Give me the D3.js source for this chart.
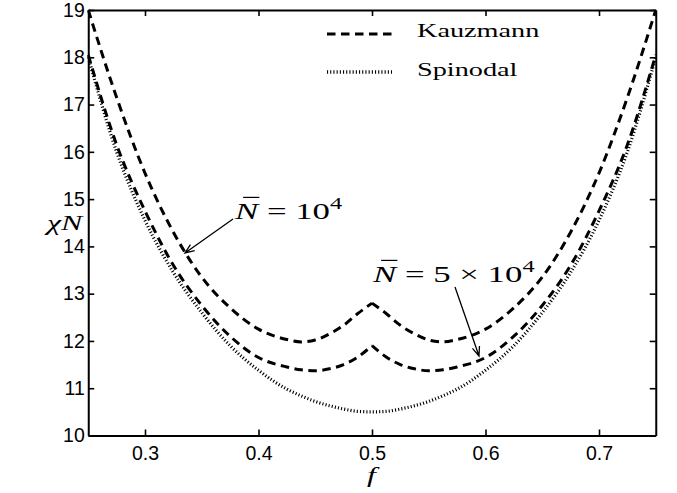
<!DOCTYPE html>
<html lang="en">
<head>
<meta charset="UTF-8">
<title>Kauzmann and spinodal lines</title>
<script src="https://cdn.jsdelivr.net/npm/d3@7"></script>
<style>
  html, body { margin: 0; padding: 0; background: #fff; }
  svg { display: block; }
</style>
</head>
<body>
<script>
// composition grid (both halves share f = 0.5, where the Kauzmann lines have a cusp)
const fGrid = [0.25, 0.275, 0.3, 0.325, 0.35, 0.375, 0.4, 0.425, 0.4375, 0.45, 0.4625, 0.475, 0.4875, 0.5,
               0.5125, 0.525, 0.5375, 0.55, 0.5625, 0.575, 0.6, 0.625, 0.65, 0.675, 0.7, 0.725, 0.75]

// chi N
const spinodal = [18.0, 16.0, 14.55, 13.45, 12.6, 11.9, 11.38, 10.98, 10.84, 10.72, 10.63, 10.56, 10.51, 10.5,
                  10.51, 10.56, 10.63, 10.72, 10.84, 10.98, 11.38, 11.9, 12.6, 13.45, 14.55, 16.0, 18.0]
const kauz1e4 = [19.0, 17.15, 15.55, 14.3, 13.35, 12.7, 12.25, 12.03, 11.98, 12.02, 12.15, 12.33, 12.58, 12.8,
                 12.58, 12.33, 12.15, 12.02, 11.98, 12.03, 12.25, 12.7, 13.35, 14.3, 15.55, 17.15, 19.0]
const kauz5e4 = [18.05, 16.15, 14.75, 13.6, 12.75, 12.1, 11.65, 11.45, 11.39, 11.37, 11.41, 11.5, 11.66, 11.9,
                 11.66, 11.5, 11.41, 11.37, 11.39, 11.45, 11.65, 12.1, 12.75, 13.6, 14.75, 16.15, 18.05]

const xTicks = [0.3, 0.4, 0.5, 0.6, 0.7]
const yTicks = [10, 11, 12, 13, 14, 15, 16, 17, 18, 19]

const W = 677, H = 493
const margin = {top: 10, right: 21.25, bottom: 57.5, left: 88.25}
const iw = W - margin.left - margin.right
const ih = H - margin.top - margin.bottom
const stretch = 1.45   // the serif (TeX) text in the picture is drawn wide

const svg = d3.select('body').append('svg')
    .attr('width', W)
    .attr('height', H)

const g = svg.append('g').attr('transform', `translate(${margin.left},${margin.top})`)

const x = d3.scaleLinear().domain([0.25, 0.75]).range([0, iw])
const y = d3.scaleLinear().domain([10, 19]).range([ih, 0])

svg.append('defs').append('clipPath').attr('id', 'plotclip')
    .append('rect').attr('x', -1).attr('y', -1).attr('width', iw + 2).attr('height', ih + 2)

const line = d3.line()
    .x(d => x(d.f))
    .y(d => y(d.v))
    .curve(d3.curveMonotoneX)

function pts(vals) {
    return fGrid.map((f, i) => ({f, v: vals[i]}))
}
// split at the cusp so that the peak stays sharp
function halves(vals) {
    const p = pts(vals)
    return [p.filter(d => d.f <= 0.5), p.filter(d => d.f >= 0.5)]
}

const dash = '8.5,5.5'
const dots = '1.1,2.1'

const plot = g.append('g').attr('clip-path', 'url(#plotclip)')

plot.append('path')
    .attr('d', line(pts(spinodal)))
    .attr('fill', 'none')
    .attr('stroke', '#000')
    .attr('stroke-width', 3.2)
    .attr('stroke-dasharray', dots)

;[kauz1e4, kauz5e4].forEach(vals => {
    halves(vals).forEach(h => {
        plot.append('path')
            .attr('d', line(h))
            .attr('fill', 'none')
            .attr('stroke', '#000')
            .attr('stroke-width', 3)
            .attr('stroke-dasharray', dash)
    })
})

// axes, ticks pointing inside on all four sides
function styleAxis(sel) {
    sel.select('.domain').attr('stroke-width', 2)
    sel.selectAll('.tick line').attr('stroke-width', 1.6)
    sel.selectAll('.tick text')
        .attr('font-family', '"Liberation Sans", Arial, Helvetica, sans-serif')
        .attr('font-size', 19.5)
        .attr('fill', '#000')
}

g.append('g').attr('transform', `translate(0,${ih})`)
    .call(d3.axisBottom(x).tickValues(xTicks).tickSizeInner(-6).tickSizeOuter(0).tickPadding(10.5)
        .tickFormat(d3.format('.1f')))
    .call(styleAxis)
g.append('g')
    .call(d3.axisTop(x).tickValues(xTicks).tickSizeInner(-6).tickSizeOuter(0).tickFormat(''))
    .call(styleAxis)
g.append('g')
    .call(d3.axisLeft(y).tickValues(yTicks).tickSizeInner(-6).tickSizeOuter(0).tickPadding(3.5)
        .tickFormat(d3.format('d')))
    .call(styleAxis)
g.append('g').attr('transform', `translate(${iw},0)`)
    .call(d3.axisRight(y).tickValues(yTicks).tickSizeInner(-6).tickSizeOuter(0).tickFormat(''))
    .call(styleAxis)

// serif text, stretched horizontally like the picture
function serif(px, py, size, parts) {
    const grp = svg.append('g').attr('transform', `translate(${px},${py}) scale(${stretch},1)`)
    const t = grp.append('text')
        .attr('font-family', '"Liberation Serif", "Times New Roman", serif')
        .attr('font-size', size)
        .attr('fill', '#000')
    parts.forEach(p => {
        const s = t.append('tspan').text(p.t)
        if (p.italic) s.attr('font-style', 'italic')
        if (p.sup) s.attr('font-size', size * 0.7).attr('dy', -size * 0.42)
    })
    return {grp, t}
}

function nbar(lbl, size) {
    const ext = lbl.t.node().getExtentOfChar(0)
    lbl.grp.append('line')
        .attr('x1', ext.x + ext.width * 0.35)
        .attr('x2', ext.x + ext.width * 1.05)
        .attr('y1', -size * 0.9)
        .attr('y2', -size * 0.9)
        .attr('stroke', '#000')
        .attr('stroke-width', 1.2)
}

// legend
const legend = [
    {label: 'Kauzmann', dasharray: dash, width: 3.2, y: 34, x2: 395},
    {label: 'Spinodal', dasharray: dots, width: 3.4, y: 72, x2: 392}
]
legend.forEach((d, i) => {
    svg.append('line')
        .attr('x1', 327).attr('x2', d.x2)
        .attr('y1', d.y).attr('y2', d.y)
        .attr('stroke', '#000')
        .attr('stroke-width', d.width)
        .attr('stroke-dasharray', d.dasharray)
    serif(417, d.y + 3 + i * 0.5, 19.5, [{t: d.label}])
})

// axis titles
serif(47, 230, 22, [{t: 'χ', italic: true}, {t: 'N', italic: true}])
serif(367, 482, 22, [{t: 'f', italic: true}])

// annotations
const lbl1 = serif(235, 219, 24, [{t: 'N', italic: true}, {t: ' = 10'}, {t: '4', sup: true}])
nbar(lbl1, 24)
const lbl2 = serif(373, 282, 24, [{t: 'N', italic: true}, {t: ' = 5 × 10'}, {t: '4', sup: true}])
nbar(lbl2, 24)

function arrow(x1, y1, x2, y2) {
    const a = Math.atan2(y2 - y1, x2 - x1)
    const len = 10, spread = 0.38
    const p = d3.path()
    p.moveTo(x1, y1); p.lineTo(x2, y2)
    p.moveTo(x2 - len * Math.cos(a - spread), y2 - len * Math.sin(a - spread))
    p.lineTo(x2, y2)
    p.lineTo(x2 - len * Math.cos(a + spread), y2 - len * Math.sin(a + spread))
    svg.append('path')
        .attr('d', p.toString())
        .attr('fill', 'none')
        .attr('stroke', '#000')
        .attr('stroke-width', 1.3)
}
arrow(233, 219, 185, 253)
arrow(455, 287, 479, 356)
</script>
</body>
</html>
